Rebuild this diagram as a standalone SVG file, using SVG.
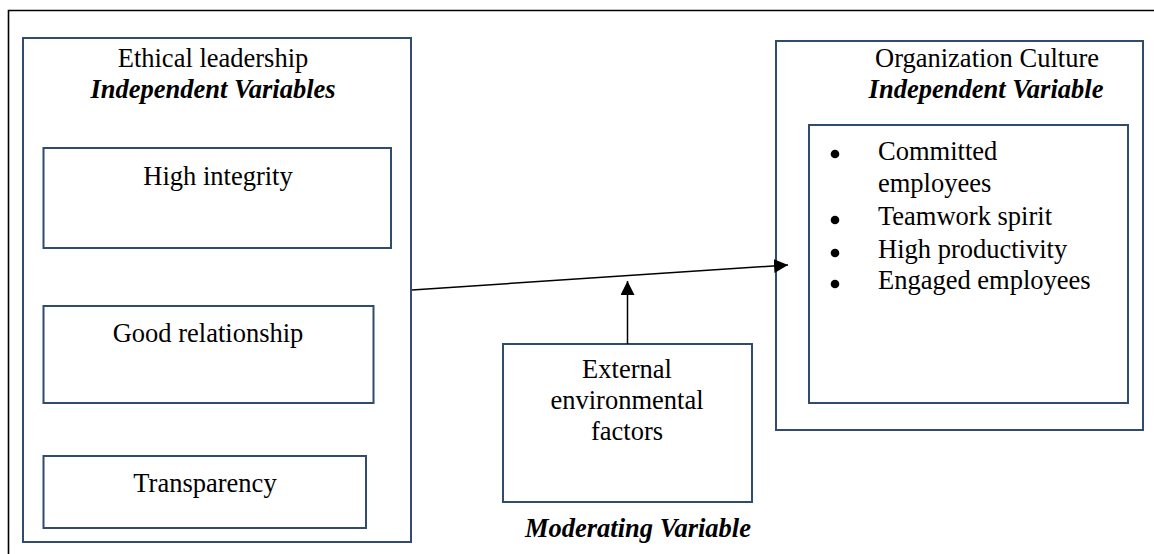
<svg xmlns="http://www.w3.org/2000/svg" width="1154" height="554" viewBox="0 0 1154 554">
<defs>
<style>
.box{fill:#fff;stroke:#2f4b6e;stroke-width:2}
.t{font-family:"Liberation Serif","Times New Roman",serif;font-size:26.5px;fill:#000;text-anchor:middle}
.l{font-family:"Liberation Serif","Times New Roman",serif;font-size:26.5px;fill:#000}
.bi{font-weight:bold;font-style:italic}
.c{stroke:#000;stroke-width:1.5;fill:none}
</style>
<marker id="ah" viewBox="0 0 10 10" refX="10" refY="5" markerWidth="14" markerHeight="14" markerUnits="userSpaceOnUse" orient="auto">
<path d="M0,0 L10,5 L0,10 Z" fill="#000"/>
</marker>
</defs>
<rect width="1154" height="554" fill="#fff"/>
<path d="M8.5,560 V10.5 H1160" fill="none" stroke="#000" stroke-width="1.6"/>
<g id="ethical-leadership">
<rect class="box" x="23" y="38" width="388" height="504"/>
<text class="t" x="213" y="67">Ethical leadership</text>
<text class="t bi" x="213" y="98">Independent Variables</text>
</g>
<g id="high-integrity">
<rect class="box" x="43.5" y="148" width="347.5" height="100"/>
<text class="t" x="218" y="185">High integrity</text>
</g>
<g id="good-relationship">
<rect class="box" x="43.5" y="306" width="330" height="97"/>
<text class="t" x="208" y="342">Good relationship</text>
</g>
<g id="transparency">
<rect class="box" x="43.5" y="456" width="322.5" height="72"/>
<text class="t" x="205" y="492">Transparency</text>
</g>
<g id="organization-culture">
<rect class="box" x="776" y="41" width="367" height="389"/>
<text class="t" x="987" y="67">Organization Culture</text>
<text class="t bi" x="986" y="98">Independent Variable</text>
</g>
<g id="culture-items">
<rect class="box" x="809" y="125" width="319" height="278"/>
<circle cx="835" cy="154" r="4.3" fill="#000"/>
<circle cx="835" cy="220" r="4.3" fill="#000"/>
<circle cx="835" cy="253" r="4.3" fill="#000"/>
<circle cx="835" cy="284" r="4.3" fill="#000"/>
<text class="l" x="878" y="160">Committed</text>
<text class="l" x="878" y="192">employees</text>
<text class="l" x="878" y="225">Teamwork spirit</text>
<text class="l" x="878" y="258">High productivity</text>
<text class="l" x="878" y="289">Engaged employees</text>
</g>
<g id="moderator">
<rect class="box" x="503" y="344" width="249" height="158"/>
<text class="t" x="627" y="378">External</text>
<text class="t" x="627" y="409">environmental</text>
<text class="t" x="627" y="440">factors</text>
<text class="t bi" x="638" y="537">Moderating Variable</text>
</g>
<g id="connectors">
<line class="c" x1="412" y1="290" x2="788" y2="265" marker-end="url(#ah)"/>
<line class="c" x1="627.5" y1="344" x2="627.5" y2="281" marker-end="url(#ah)"/>
</g>
</svg>
